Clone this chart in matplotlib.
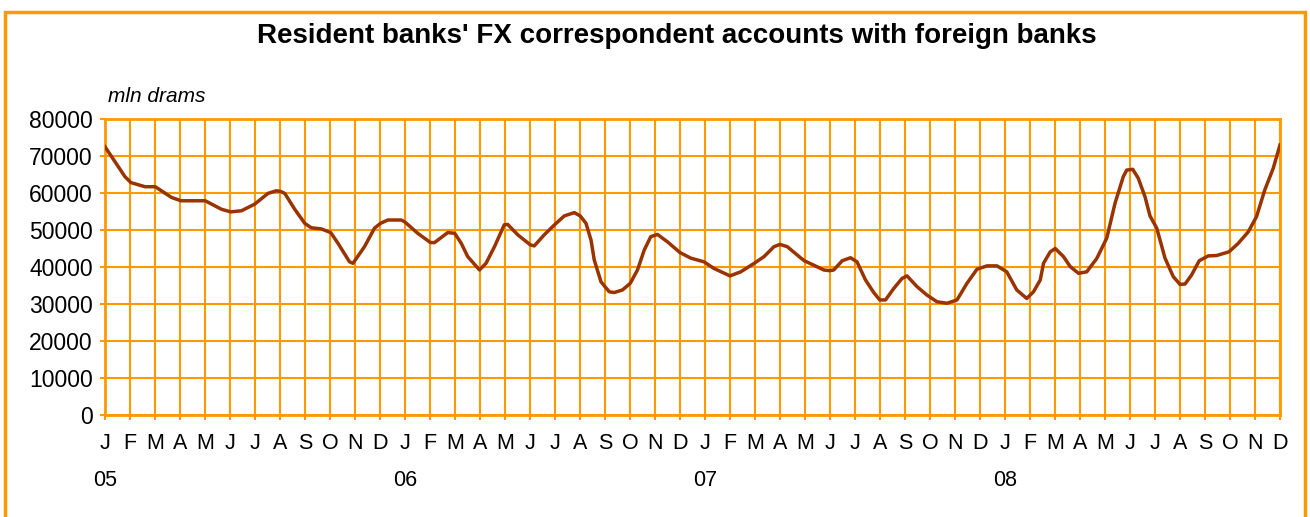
import matplotlib
matplotlib.use("Agg")
import matplotlib.pyplot as plt
import matplotlib.transforms as mtransforms
from matplotlib.patches import Rectangle

# months since Jan 2005 (0 = J 05, 47 = D 08), values in mln drams
months = [0.00, 0.53, 0.80, 1.04, 1.60, 2.01, 2.66, 3.04, 4.01, 4.66, 5.03, 5.46,
          5.99, 6.52, 6.86, 7.03, 7.19, 7.59, 7.99, 8.25, 8.65, 9.03, 9.32, 9.78,
          9.92, 10.38, 10.78, 11.02, 11.31, 11.85, 11.99, 12.51, 13.02, 13.18, 13.71,
          13.99, 14.25, 14.51, 14.98, 15.24, 15.58, 15.97, 16.11, 16.51, 17.01, 17.17,
          17.57, 17.98, 18.37, 18.77, 19.01, 19.24, 19.44, 19.57, 19.84, 20.17, 20.37,
          20.70, 21.01, 21.30, 21.57, 21.83, 22.10, 22.50, 23.00, 23.43, 23.96, 24.36,
          25.00, 25.43, 25.97, 26.36, 26.76, 27.00, 27.29, 27.82, 27.97, 28.35, 28.75,
          28.99, 29.15, 29.49, 29.82, 30.08, 30.42, 30.75, 30.99, 31.22, 31.55, 31.88,
          32.08, 32.48, 32.88, 33.28, 33.68, 34.08, 34.48, 34.88, 35.28, 35.68, 36.07,
          36.47, 36.87, 37.14, 37.41, 37.54, 37.81, 38.01, 38.34, 38.61, 38.94, 39.27,
          39.67, 40.07, 40.40, 40.73, 40.87, 41.11, 41.33, 41.60, 41.80, 42.07, 42.40,
          42.73, 43.00, 43.20, 43.46, 43.77, 44.13, 44.46, 44.96, 45.33, 45.73, 46.06,
          46.39, 46.73, 47.00]
accounts = [72500, 67100, 64400, 62800, 61700, 61700, 58800, 57900, 57900, 55600, 54900, 55200,
            57000, 59900, 60600, 60400, 59900, 55600, 51800, 50600, 50300, 49300, 46400, 41400,
            41000, 45500, 50500, 51800, 52700, 52700, 52200, 49100, 46600, 46600, 49300,
            49100, 46400, 42800, 39200, 41000, 45500, 51400, 51500, 48700, 46000, 45700,
            48700, 51400, 53800, 54700, 53800, 51800, 47300, 41900, 36000, 33300, 33100,
            33800, 35600, 39200, 44600, 48200, 48800, 46800, 43900, 42400, 41400, 39600,
            37600, 38700, 41000, 42800, 45500, 46100, 45500, 42500, 41700, 40500, 39200,
            39000, 39200, 41700, 42500, 41400, 36500, 33100, 31100, 31100, 34200, 36900,
            37600, 34700, 32400, 30600, 30200, 31100, 35600, 39400, 40300, 40300, 38700,
            33800, 31500, 33300, 36500, 41000, 44100, 45000, 42800, 40100, 38300, 38700,
            42300, 47800, 57200, 64400, 66200, 66400, 64000, 59000, 53800, 50500, 42400,
            37400, 35300, 35400, 37800, 41700, 43000, 43100, 44100, 46400, 49500, 53600,
            60800, 66700, 73000]

month_letters = ["J", "F", "M", "A", "M", "J", "J", "A", "S", "O", "N", "D"] * 4
years = ["05", "06", "07", "08"]
y_ticks = [0, 10000, 20000, 30000, 40000, 50000, 60000, 70000, 80000]

ORANGE = "#FF9900"
BROWN = "#993300"
W, H = 1310, 517

plt.rcParams['font.family'] = ['Liberation Sans', 'DejaVu Sans']

fig = plt.figure(figsize=(W / 100, H / 100), dpi=100)
# orange chart-area border (bottom edge runs off the picture)
fig.patches.append(Rectangle((5 / W, -0.05), 1300 / W, 1 - 12 / H + 0.05,
                             transform=fig.transFigure, fill=False,
                             edgecolor=ORANGE, linewidth=2.5))

ax = fig.add_axes([105 / W, 1 - 415 / H, 1175 / W, 296 / H])
ax.plot(months, accounts, color=BROWN, linewidth=2.5, solid_joinstyle='round', zorder=3)

ax.set_xlim(0, 47)
ax.set_ylim(0, 80000)
ax.set_xticks(range(48))
ax.set_xticklabels(month_letters, fontsize=15.5)
ax.set_yticks(y_ticks)
ax.set_yticklabels([str(v) for v in y_ticks], fontsize=16.5)
ax.tick_params(axis='both', colors=ORANGE, width=1.5, length=3.8, labelcolor='black')
ax.tick_params(axis='x', pad=9)
ax.tick_params(axis='y', pad=5)
ax.grid(True, color=ORANGE, linewidth=1.5)
ax.set_axisbelow(True)
for s in ax.spines.values():
    s.set_color(ORANGE)
    s.set_linewidth(2)

trans = mtransforms.blended_transform_factory(ax.transData, ax.transAxes)
for i, yr in enumerate(years):
    ax.text(i * 12, -0.22, yr, transform=trans, ha='center', va='center', fontsize=15.5)

fig.text(108 / W, 1 - 96 / H, "mln drams", fontsize=15, style='italic',
         ha='left', va='center')
fig.text(677 / W, 1 - 36 / H, "Resident banks' FX correspondent accounts with foreign banks",
         ha='center', va='center', fontsize=20, fontweight='bold')

plt.savefig("out.png", dpi=100)
